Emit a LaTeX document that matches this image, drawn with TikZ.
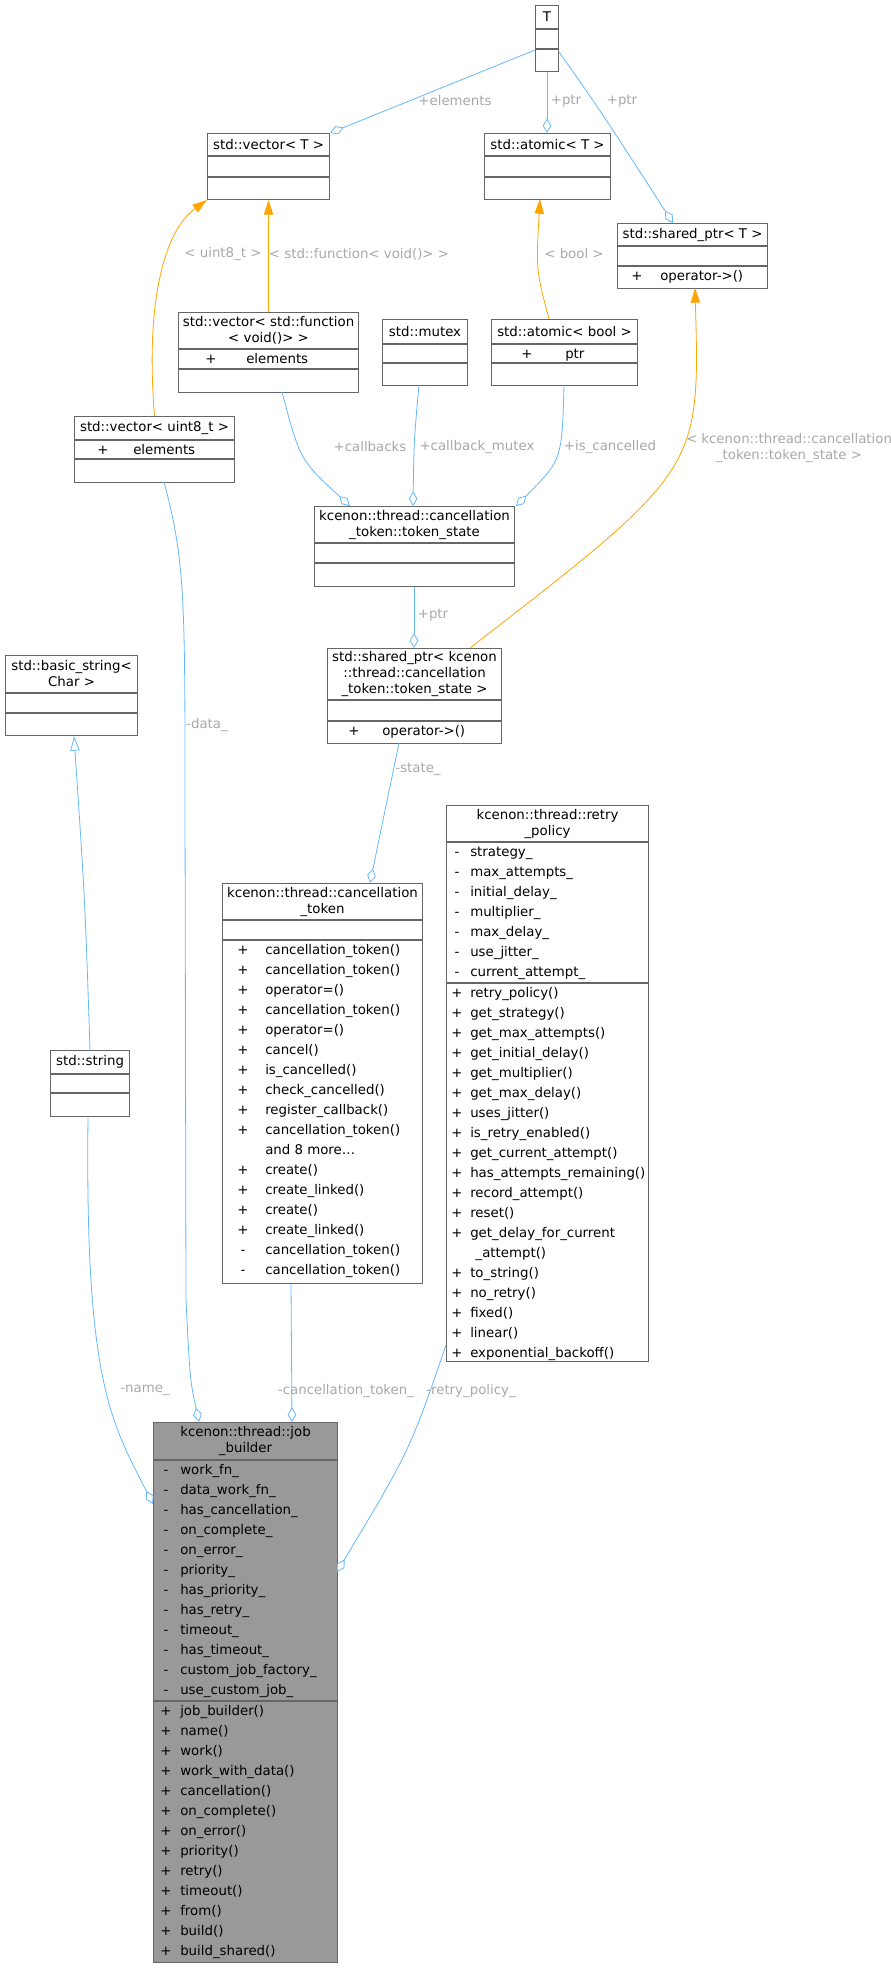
\documentclass[tikz,border=0pt]{standalone}
\usepackage{fontspec}
\setmainfont{DejaVu Sans}
\usetikzlibrary{arrows.meta,calc}

\definecolor{edgeblue}{HTML}{63B8FF}
\definecolor{edgeorange}{HTML}{FFA500}
\definecolor{labelgrey}{HTML}{A8A8A8}
\definecolor{boxgrey}{HTML}{666666}

\tikzset{
  cls/.style={draw=boxgrey, line width=0.8pt, inner sep=0pt, anchor=north west},
  txt/.style={font=\fontsize{10}{12}\selectfont, inner sep=0pt},
  lbl/.style={font=\fontsize{10}{12}\selectfont, text=labelgrey, inner sep=1pt},
  member/.style={draw=edgeblue, line width=0.6pt, -{Diamond[open,length=11pt,width=6.5pt]}},
  tmpl/.style={draw=edgeorange, line width=0.6pt, -{Triangle[length=11pt,width=7pt]}},
  inherit/.style={draw=edgeblue, line width=0.6pt, -{Triangle[open,length=11pt,width=7pt]}},
}

% box: name, x, y, width, title h, attr h, method h, title, fill
\newcommand{\classbox}[9]{%
  \pgfmathsetmacro{\bw}{#4*0.75}%
  \pgfmathsetmacro{\bh}{(#5+#6+#7)*0.75}%
  \node[cls, fill=#9, minimum width=\bw pt, minimum height=\bh pt] (#1) at (#2,#3) {};
  \draw[boxgrey, line width=0.8pt] ($(#1.north west)+(0,#5)$) -- ($(#1.north east)+(0,#5)$);
  \draw[boxgrey, line width=0.8pt] ($(#1.north west)+(0,#5+#6)$) -- ($(#1.north east)+(0,#5+#6)$);
  \node[txt, align=center] (#1-title) at ($(#1.north)+(0,#5/2)$) {#8};
}
% rows: box, top offset, prefix x, name x, list
\newcommand{\classrows}[5]{%
  \foreach \p/\n [count=\i] in {#5} {
    \node[txt, anchor=base] at ($(#1.north west)+(#3,#2+\i*20-6)$) {\p};
    \node[txt, anchor=base west] at ($(#1.north west)+(#4,#2+\i*20-6)$) {\n};
  }
}

\begin{document}
\begin{tikzpicture}[x=0.75pt, y=-0.75pt]
\useasboundingbox (0,0) rectangle (891,1968);

% classes
\classbox{T}{535}{5}{23}{24}{20}{22}{T}{white}
\classbox{vecT}{207}{133}{122}{23}{21}{22}{std::vector\textless{} T \textgreater}{white}
\classbox{atomicT}{484}{133}{126}{23}{21}{22}{std::atomic\textless{} T \textgreater}{white}
\classbox{sharedT}{617}{223}{150}{23}{20}{22}{std::shared\_ptr\textless{} T \textgreater}{white}
\classrows{sharedT}{43}{20}{43}{+/operator->()}
\classbox{vecfunc}{178}{312}{180}{37}{20}{23}{std::vector\textless{} std::function\\\textless{} void()\textgreater{} \textgreater}{white}
\classrows{vecfunc}{37}{33}{68}{+/elements}
\classbox{mutex}{382}{319}{85}{25}{19}{22}{std::mutex}{white}
\classbox{atomicbool}{491}{319}{146}{25}{19}{22}{std::atomic\textless{} bool \textgreater}{white}
\classrows{atomicbool}{25}{36}{74}{+/ptr}
\classbox{vecuint}{74}{416}{160}{24}{19}{23}{std::vector\textless{} uint8\_t \textgreater}{white}
\classrows{vecuint}{24}{29}{59}{+/elements}
\classbox{state}{314}{506}{200}{37}{20}{23}{kcenon::thread::cancellation\\\_token::token\_state}{white}
\classbox{sharedkc}{327}{648}{174}{52}{21}{22}{std::shared\_ptr\textless{} kcenon\\::thread::cancellation\\\_token::token\_state \textgreater}{white}
\classrows{sharedkc}{73}{27}{55}{+/operator->()}
\classbox{basic}{5}{655}{132}{38}{20}{22}{std::basic\_string\textless\\Char \textgreater}{white}
\classbox{string}{50}{1050}{79}{24}{19}{23}{std::string}{white}
\classbox{token}{222}{883}{200}{37}{20}{343}{kcenon::thread::cancellation\\\_token}{white}
\classrows{token}{57}{21}{43}{+/cancellation\_token(), +/cancellation\_token(), +/operator=(),
  +/cancellation\_token(), +/operator=(), +/cancel(), +/is\_cancelled(), +/check\_cancelled(),
  +/register\_callback(), +/cancellation\_token(), /and 8 more\ldots, +/create(), +/create\_linked(),
  +/create(), +/create\_linked(), -/cancellation\_token(), -/cancellation\_token()}
\classbox{retry}{446}{805}{202}{37}{141}{378}{kcenon::thread::retry\\\_policy}{white}
\classrows{retry}{37}{11}{24}{-/strategy\_, -/max\_attempts\_, -/initial\_delay\_, -/multiplier\_,
  -/max\_delay\_, -/use\_jitter\_, -/current\_attempt\_}
\classrows{retry}{178}{11}{24}{+/retry\_policy(), +/get\_strategy(), +/get\_max\_attempts(),
  +/get\_initial\_delay(), +/get\_multiplier(), +/get\_max\_delay(), +/uses\_jitter(),
  +/is\_retry\_enabled(), +/get\_current\_attempt(), +/has\_attempts\_remaining(),
  +/record\_attempt(), +/reset(), +/get\_delay\_for\_current, /\hspace*{4pt}\_attempt(),
  +/to\_string(), +/no\_retry(), +/fixed(), +/linear(), +/exponential\_backoff()}
\classbox{job}{153}{1422}{184}{38}{241}{261}{kcenon::thread::job\\\_builder}{black!40}
\classrows{job}{38}{13}{27}{-/work\_fn\_, -/data\_work\_fn\_, -/has\_cancellation\_, -/on\_complete\_,
  -/on\_error\_, -/priority\_, -/has\_priority\_, -/has\_retry\_, -/timeout\_, -/has\_timeout\_,
  -/custom\_job\_factory\_, -/use\_custom\_job\_}
\classrows{job}{279}{13}{27}{+/job\_builder(), +/name(), +/work(), +/work\_with\_data(), +/cancellation(),
  +/on\_complete(), +/on\_error(), +/priority(), +/retry(), +/timeout(), +/from(), +/build(),
  +/build\_shared()}

% template parameter T
\draw[member] (T.west |- 0,50) -- (vecT.north east);
\node[lbl] (lelem) at (455,101) {+elements};
\draw[member] (T.south) -- (atomicT.north -| T.south);
\node[lbl] (lptra) at (566,101) {+ptr};
\draw[member] (T.east |- 0,52) .. controls (600,110) .. (673,223);
\node[lbl] (lptrs) at (622,101) {+ptr};

% template instances
\draw[tmpl] (vecuint.north) .. controls (145,300) and (165,230) .. (vecT.south west);
\node[lbl] (luint) at (223,254) {\textless{} uint8\_t \textgreater};
\draw[tmpl] (vecfunc.north -| vecT.south) -- (vecT.south);
\node[lbl] (lfunc) at (359,254) {\textless{} std::function\textless{} void()\textgreater{} \textgreater};
\draw[tmpl] (549,319) .. controls (536,270) .. (540,199);
\node[lbl] (lbool) at (574,254) {\textless{} bool \textgreater};
\draw[tmpl] (470,648) .. controls (700,470) .. (695,288);
\node[lbl, align=center] (lkc) at (789,448) {\textless{} kcenon::thread::cancellation\\\_token::token\_state \textgreater};

% members of token_state
\draw[member] (282,392) .. controls (300,460) .. (350,506);
\node[lbl] (lcb) at (370,447) {+callbacks};
\draw[member] (419,385) .. controls (414,440) .. (413,506);
\node[lbl] (lmtx) at (477,447) {+callback\_mutex};
\draw[member] (564,385) .. controls (562,460) .. (516,506);
\node[lbl] (lcan) at (610,447) {+is\_cancelled};
\draw[member] (state.south -| 414,0) -- (sharedkc.north -| 414,0);
\node[lbl] (lptrk) at (433,615) {+ptr};
\draw[member] (399,743) -- (370,883);
\node[lbl] (lstate) at (418,769) {-state\_};

% members of job_builder
\draw[inherit] (string.north) .. controls (85,900) .. (basic.south -| 74,0);
\draw[member] (164,482) .. controls (185,560) and (185,600) .. (185,800) -- (186,1300) .. controls (190,1380) .. (199,1422);
\node[lbl] (ldata) at (207,725) {-data\_};
\draw[member] (string.south -| 88,0) .. controls (85,1380) and (110,1420) .. (153,1504);
\node[lbl] (lname) at (145,1390) {-name\_};
\draw[member] (291,1283) -- (292,1422);
\node[lbl] (ltok) at (346,1391) {-cancellation\_token\_};
\draw[member] (446,1345) .. controls (410,1450) .. (337,1572);
\node[lbl] (lret) at (471,1391) {-retry\_policy\_};
\end{tikzpicture}
\end{document}
